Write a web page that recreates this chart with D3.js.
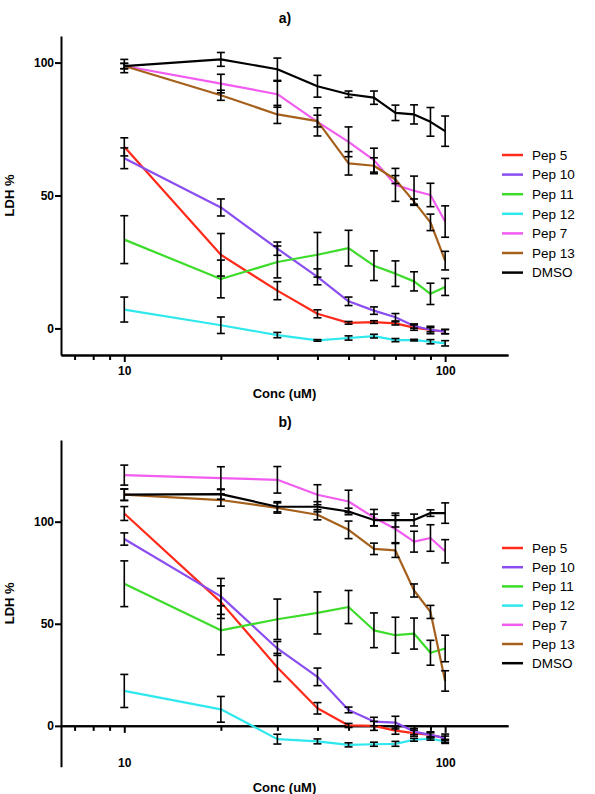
<!DOCTYPE html>
<html>
<head>
<meta charset="utf-8">
<script src="https://cdn.jsdelivr.net/npm/d3@7"></script>
<style>
  body { margin: 0; background: #fff; }
  svg { display: block; font-family: "Liberation Sans", Arial, sans-serif; }
</style>
</head>
<body>
<div id="chart"></div>
<script>
// Concentrations (uM), log x axis
var concs = [10, 20, 30, 40, 50, 60, 70, 80, 90, 100];
var xMajorTicks = [10, 100];
var xMinorTicks = [7, 8, 9, 20, 30, 40, 50, 60, 70, 80, 90];
var yTicks = [0, 50, 100];
var seriesNames = ["Pep 5", "Pep 10", "Pep 11", "Pep 12", "Pep 7", "Pep 13", "DMSO"];
var seriesColors = ["#ff2a1a", "#8a4df0", "#3ddc2a", "#2ee8ee", "#f25cf0", "#a5601c", "#000000"];

// a) LDH % mean and error
var pep5A = [68.3, 27.7, 14.2, 5.5, 2.1, 2.4, 1.9, 0.3, -0.6, -1.2];
var pep5ErrA = [3.4, 8, 3.4, 1.5, 0.5, 0.5, 0.6, 1, 1.4, 0.8];
var pep10A = [64, 45.5, 30, 19.4, 10.2, 6.7, 4.2, 0.9, -0.5, -1.2];
var pep10ErrA = [3.9, 3.2, 2.5, 3, 1.6, 1.4, 1.4, 0.8, 0.8, 0.8];
var pep11A = [33.4, 18.6, 25, 27.7, 30.2, 23.6, 20.6, 17.7, 13, 15.6];
var pep11ErrA = [9, 7.1, 6, 8.4, 6.7, 5.6, 4.8, 3.6, 4, 3.2];
var pep12A = [7.1, 1.2, -2.5, -4.5, -3.6, -2.9, -4.4, -4.4, -5, -5.6];
var pep12ErrA = [4.7, 3.1, 1, 0.3, 0.8, 0.7, 0.6, 0.3, 0.8, 1];
var pep7A = [98.7, 92.1, 88.1, 77.7, 70.2, 63.3, 54, 51.8, 50.2, 40.2];
var pep7ErrA = [1, 3.5, 4.9, 5.3, 5.6, 4.5, 6.2, 5.5, 4.4, 5.9];
var pep13A = [98.7, 87.7, 80.5, 78, 62.1, 61.2, 56, 47.7, 39.9, 25.5];
var pep13ErrA = [1, 1.9, 3.4, 2.2, 4.4, 3, 1.5, 1, 3.1, 3.5];
var dmsoA = [98.7, 101.2, 97.5, 91.1, 88.1, 86.8, 81.1, 80.5, 77.7, 74.2];
var dmsoErrA = [2.5, 2.6, 4.2, 4.1, 1.2, 2.5, 2.9, 3.6, 5.4, 5.7];

// b) LDH % mean and error
var pep5B = [104, 60.6, 28.6, 8.6, 0.2, 0, -2.3, -3.6, -4.4, -6];
var pep5ErrB = [3.4, 8, 6.9, 2.8, 1, 2.2, 1.8, 1.5, 1.5, 2];
var pep10B = [91.5, 63.4, 37.9, 24, 7.8, 2.1, 1.6, -2.8, -4.4, -6];
var pep10ErrB = [3, 8.8, 3.4, 4.3, 1.4, 2.1, 3.1, 1.5, 1, 1];
var pep11B = [69.6, 46.8, 52.2, 55.3, 58.2, 46.8, 44.4, 45.2, 35.8, 37.9];
var pep11ErrB = [11.2, 12, 9.9, 10.3, 8.1, 8.5, 8.8, 7.6, 6.1, 6.5];
var pep12B = [17.1, 8.1, -6.5, -7.6, -9.3, -9, -8.8, -6.8, -6.3, -7.6];
var pep12ErrB = [8.1, 6.3, 2.4, 1.2, 1, 1, 1.2, 0.7, 0.7, 1];
var pep7B = [122.8, 121.3, 120.5, 113.2, 109.9, 102, 96.4, 90.2, 92, 85.5];
var pep7ErrB = [4.9, 5.6, 6.5, 4.9, 5.5, 4, 6.7, 5.1, 6.5, 5.7];
var pep13B = [113.2, 110.6, 106.7, 103.4, 96, 86.7, 85.9, 66.3, 55.8, 22];
var pep13ErrB = [2.8, 3, 2.5, 2.5, 4.3, 2.8, 3.4, 3.2, 3.2, 5];
var dmsoB = [113.2, 113.5, 107.3, 107.3, 105, 100.8, 100.8, 100.8, 104.2, 104.2];
var dmsoErrB = [2.8, 2.5, 2.5, 2.5, 1.6, 2.9, 3.4, 2.9, 1.6, 5];

var svg = d3.select("#chart").append("svg")
    .attr("width", 595)
    .attr("height", 794);

function drawPanel(p) {
  var x = d3.scaleLog().domain([6.35, 157]).range([61, 508]);
  var y = d3.scaleLinear().domain(p.yDomain).range([p.bottom, p.top]);
  var g = svg.append("g");

  var axisY = p.xAtZero ? y(0) : p.bottom;

  // Y axis
  g.append("g")
    .attr("class", "y-axis")
    .attr("transform", "translate(61,0)")
    .call(d3.axisLeft(y).tickValues(yTicks).tickSize(6).tickSizeOuter(0).tickPadding(1));

  // X axis, minor then major ticks
  g.append("g")
    .attr("class", "x-axis")
    .attr("transform", "translate(0," + axisY + ")")
    .call(d3.axisBottom(x).tickValues(xMinorTicks).tickSize(5).tickSizeOuter(0).tickFormat(""));
  var xMajor = g.append("g")
    .attr("class", "x-axis")
    .attr("transform", "translate(0," + axisY + ")")
    .call(d3.axisBottom(x).tickValues(xMajorTicks).tickSize(7).tickSizeOuter(0).tickPadding(3.5)
      .tickFormat(d3.format("d")));
  xMajor.selectAll("text").attr("y", p.labelY - axisY);

  g.selectAll(".domain, .tick line")
    .attr("stroke", "#000")
    .attr("stroke-width", 2);
  g.selectAll(".tick text")
    .attr("fill", "#000")
    .style("font-size", "12px")
    .style("font-weight", "bold");

  // Lines
  var line = d3.line()
    .x(function(d) { return x(d.c); })
    .y(function(d) { return y(d.v); });

  var series = seriesNames.map(function(name, i) {
    return {
      name: name,
      color: seriesColors[i],
      points: concs.map(function(c, j) { return {c: c, v: p.means[i][j], e: p.errs[i][j]}; })
    };
  });

  g.selectAll(".series")
    .data(series)
    .enter().append("path")
      .attr("class", "series")
      .attr("fill", "none")
      .attr("stroke", function(d) { return d.color; })
      .attr("stroke-width", 2.2)
      .attr("stroke-linejoin", "round")
      .attr("d", function(d) { return line(d.points); });

  // Error bars
  var allPoints = [];
  series.forEach(function(s) { allPoints = allPoints.concat(s.points); });
  var eb = g.selectAll(".errbar")
    .data(allPoints)
    .enter().append("g")
      .attr("class", "errbar")
      .attr("stroke", "#000")
      .attr("stroke-width", 1.6);
  eb.append("line")
    .attr("x1", function(d) { return x(d.c); })
    .attr("x2", function(d) { return x(d.c); })
    .attr("y1", function(d) { return y(d.v - d.e); })
    .attr("y2", function(d) { return y(d.v + d.e); });
  eb.append("line")
    .attr("x1", function(d) { return x(d.c) - 4; })
    .attr("x2", function(d) { return x(d.c) + 4; })
    .attr("y1", function(d) { return y(d.v + d.e); })
    .attr("y2", function(d) { return y(d.v + d.e); });
  eb.append("line")
    .attr("x1", function(d) { return x(d.c) - 4; })
    .attr("x2", function(d) { return x(d.c) + 4; })
    .attr("y1", function(d) { return y(d.v - d.e); })
    .attr("y2", function(d) { return y(d.v - d.e); });

  // Titles
  g.append("text")
    .attr("x", 285).attr("y", p.titleY)
    .attr("text-anchor", "middle")
    .style("font-size", "14px").style("font-weight", "bold")
    .text(p.title);
  g.append("text")
    .attr("x", 284.5).attr("y", p.xLabelY)
    .attr("text-anchor", "middle")
    .style("font-size", "13px").style("font-weight", "bold")
    .text("Conc (uM)");
  g.append("text")
    .attr("transform", "translate(14," + ((p.top + p.bottom) / 2) + ")rotate(-90)")
    .attr("text-anchor", "middle")
    .style("font-size", "13px").style("font-weight", "bold")
    .text("LDH %");

  // Legend
  var leg = g.selectAll(".legend")
    .data(series)
    .enter().append("g")
      .attr("class", "legend")
      .attr("transform", function(d, i) { return "translate(502," + (p.legendY + i * p.legendStep) + ")"; });
  leg.append("line")
    .attr("x1", 0).attr("x2", 21)
    .attr("stroke", function(d) { return d.color; })
    .attr("stroke-width", 2.5);
  leg.append("text")
    .attr("x", 30).attr("dy", "0.36em")
    .style("font-size", "13.5px")
    .text(function(d) { return d.name; });
}

drawPanel({
  title: "a)", titleY: 23,
  yDomain: [-10, 110], top: 36, bottom: 355,
  xAtZero: false, labelY: 366, xLabelY: 397.5,
  legendY: 155, legendStep: 19.6,
  means: [pep5A, pep10A, pep11A, pep12A, pep7A, pep13A, dmsoA],
  errs: [pep5ErrA, pep10ErrA, pep11ErrA, pep12ErrA, pep7ErrA, pep13ErrA, dmsoErrA]
});

drawPanel({
  title: "b)", titleY: 427,
  yDomain: [-20, 140], top: 440, bottom: 766.7,
  xAtZero: true, labelY: 758, xLabelY: 792,
  legendY: 548, legendStep: 19.2,
  means: [pep5B, pep10B, pep11B, pep12B, pep7B, pep13B, dmsoB],
  errs: [pep5ErrB, pep10ErrB, pep11ErrB, pep12ErrB, pep7ErrB, pep13ErrB, dmsoErrB]
});
</script>
</body>
</html>
